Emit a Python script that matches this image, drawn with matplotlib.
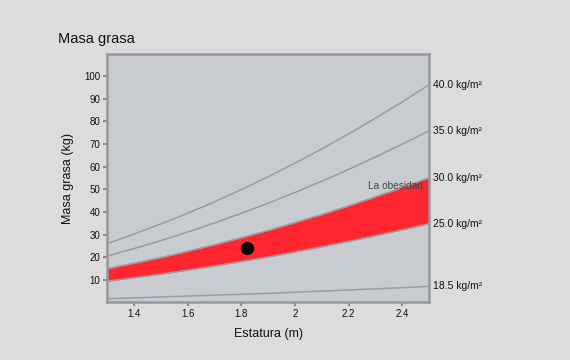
import numpy as np
import matplotlib.pyplot as plt

plt.rcParams['font.family'] = ['Liberation Sans', 'DejaVu Sans']

# Estatura (m)
heights = [1.3, 1.4, 1.5, 1.6, 1.7, 1.8, 1.9, 2.0, 2.1, 2.2, 2.3, 2.4, 2.5]

# Masa grasa (kg)
bmi_40 = [26.0, 30.2, 34.7, 39.4, 44.5, 49.9, 55.6, 61.6, 67.9, 74.5, 81.5, 88.7, 96.3]
bmi_35 = [20.5, 23.8, 27.3, 31.1, 35.1, 39.4, 43.9, 48.6, 53.6, 58.8, 64.3, 70.0, 75.9]
bmi_30 = [14.9, 17.3, 19.8, 22.6, 25.5, 28.6, 31.8, 35.3, 38.9, 42.7, 46.7, 50.8, 55.1]
bmi_25 = [9.4, 10.9, 12.5, 14.3, 16.1, 18.1, 20.1, 22.3, 24.6, 27.0, 29.5, 32.1, 34.8]
bmi_185 = [1.6, 2.0, 2.4, 2.8, 3.2, 3.6, 4.0, 4.5, 5.0, 5.5, 6.0, 6.5, 7.1]

curve_labels = ['40.0 kg/m²', '35.0 kg/m²', '30.0 kg/m²', '25.0 kg/m²', '18.5 kg/m²']

# the person's point
point_h = 1.82
point_fat = 24.0

fig = plt.figure(figsize=(5.7, 3.6), dpi=100, facecolor='#dcdcdc')
ax = fig.add_axes([0.188, 0.160, 0.565, 0.691])
ax.set_facecolor('#c8ccd0')

line_col = '#999c9f'
curves = [bmi_40, bmi_35, bmi_30, bmi_25, bmi_185]

# overweight band between 25 and 30
ax.fill_between(heights, bmi_25, bmi_30, color='#ff2630', linewidth=0, zorder=2)

for c in curves:
    ax.plot(heights, c, color=line_col, linewidth=1.1, zorder=3)

ax.plot(point_h, point_fat, 'o', color='black', markersize=8.5, zorder=4)

# labels at the right end of each curve
for c, lab in zip(curves, curve_labels):
    ax.annotate(lab, xy=(1, c[-1]), xycoords=('axes fraction', 'data'),
                xytext=(3, 0), textcoords='offset points',
                va='center', ha='left', fontsize=7.5, color='#111111',
                annotation_clip=False)

ax.text(2.477, 51.3, 'La obesidad', fontsize=7.3, color='#444444',
        ha='right', va='center', zorder=5)

ax.set_xlim(1.3, 2.5)
ax.set_ylim(0, 110)
ax.set_xticks([1.4, 1.6, 1.8, 2.0, 2.2, 2.4])
ax.set_xticklabels(['1.4', '1.6', '1.8', '2', '2.2', '2.4'])
ax.set_yticks(range(10, 101, 10))

for s in ax.spines.values():
    s.set_color('#95989b')
    s.set_linewidth(1.8)

ax.tick_params(axis='both', direction='out', length=3, width=1.5,
               color='#8a8d90', labelsize=7, labelcolor='#111111', pad=2)

ax.set_xlabel('Estatura (m)', fontsize=9, color='#111111', labelpad=6)
ax.set_ylabel('Masa grasa (kg)', fontsize=9, color='#111111', labelpad=7)

fig.text(0.102, 0.892, 'Masa grasa', fontsize=10.5, color='#111111', va='center')

plt.savefig('out.png', dpi=100, facecolor=fig.get_facecolor())
